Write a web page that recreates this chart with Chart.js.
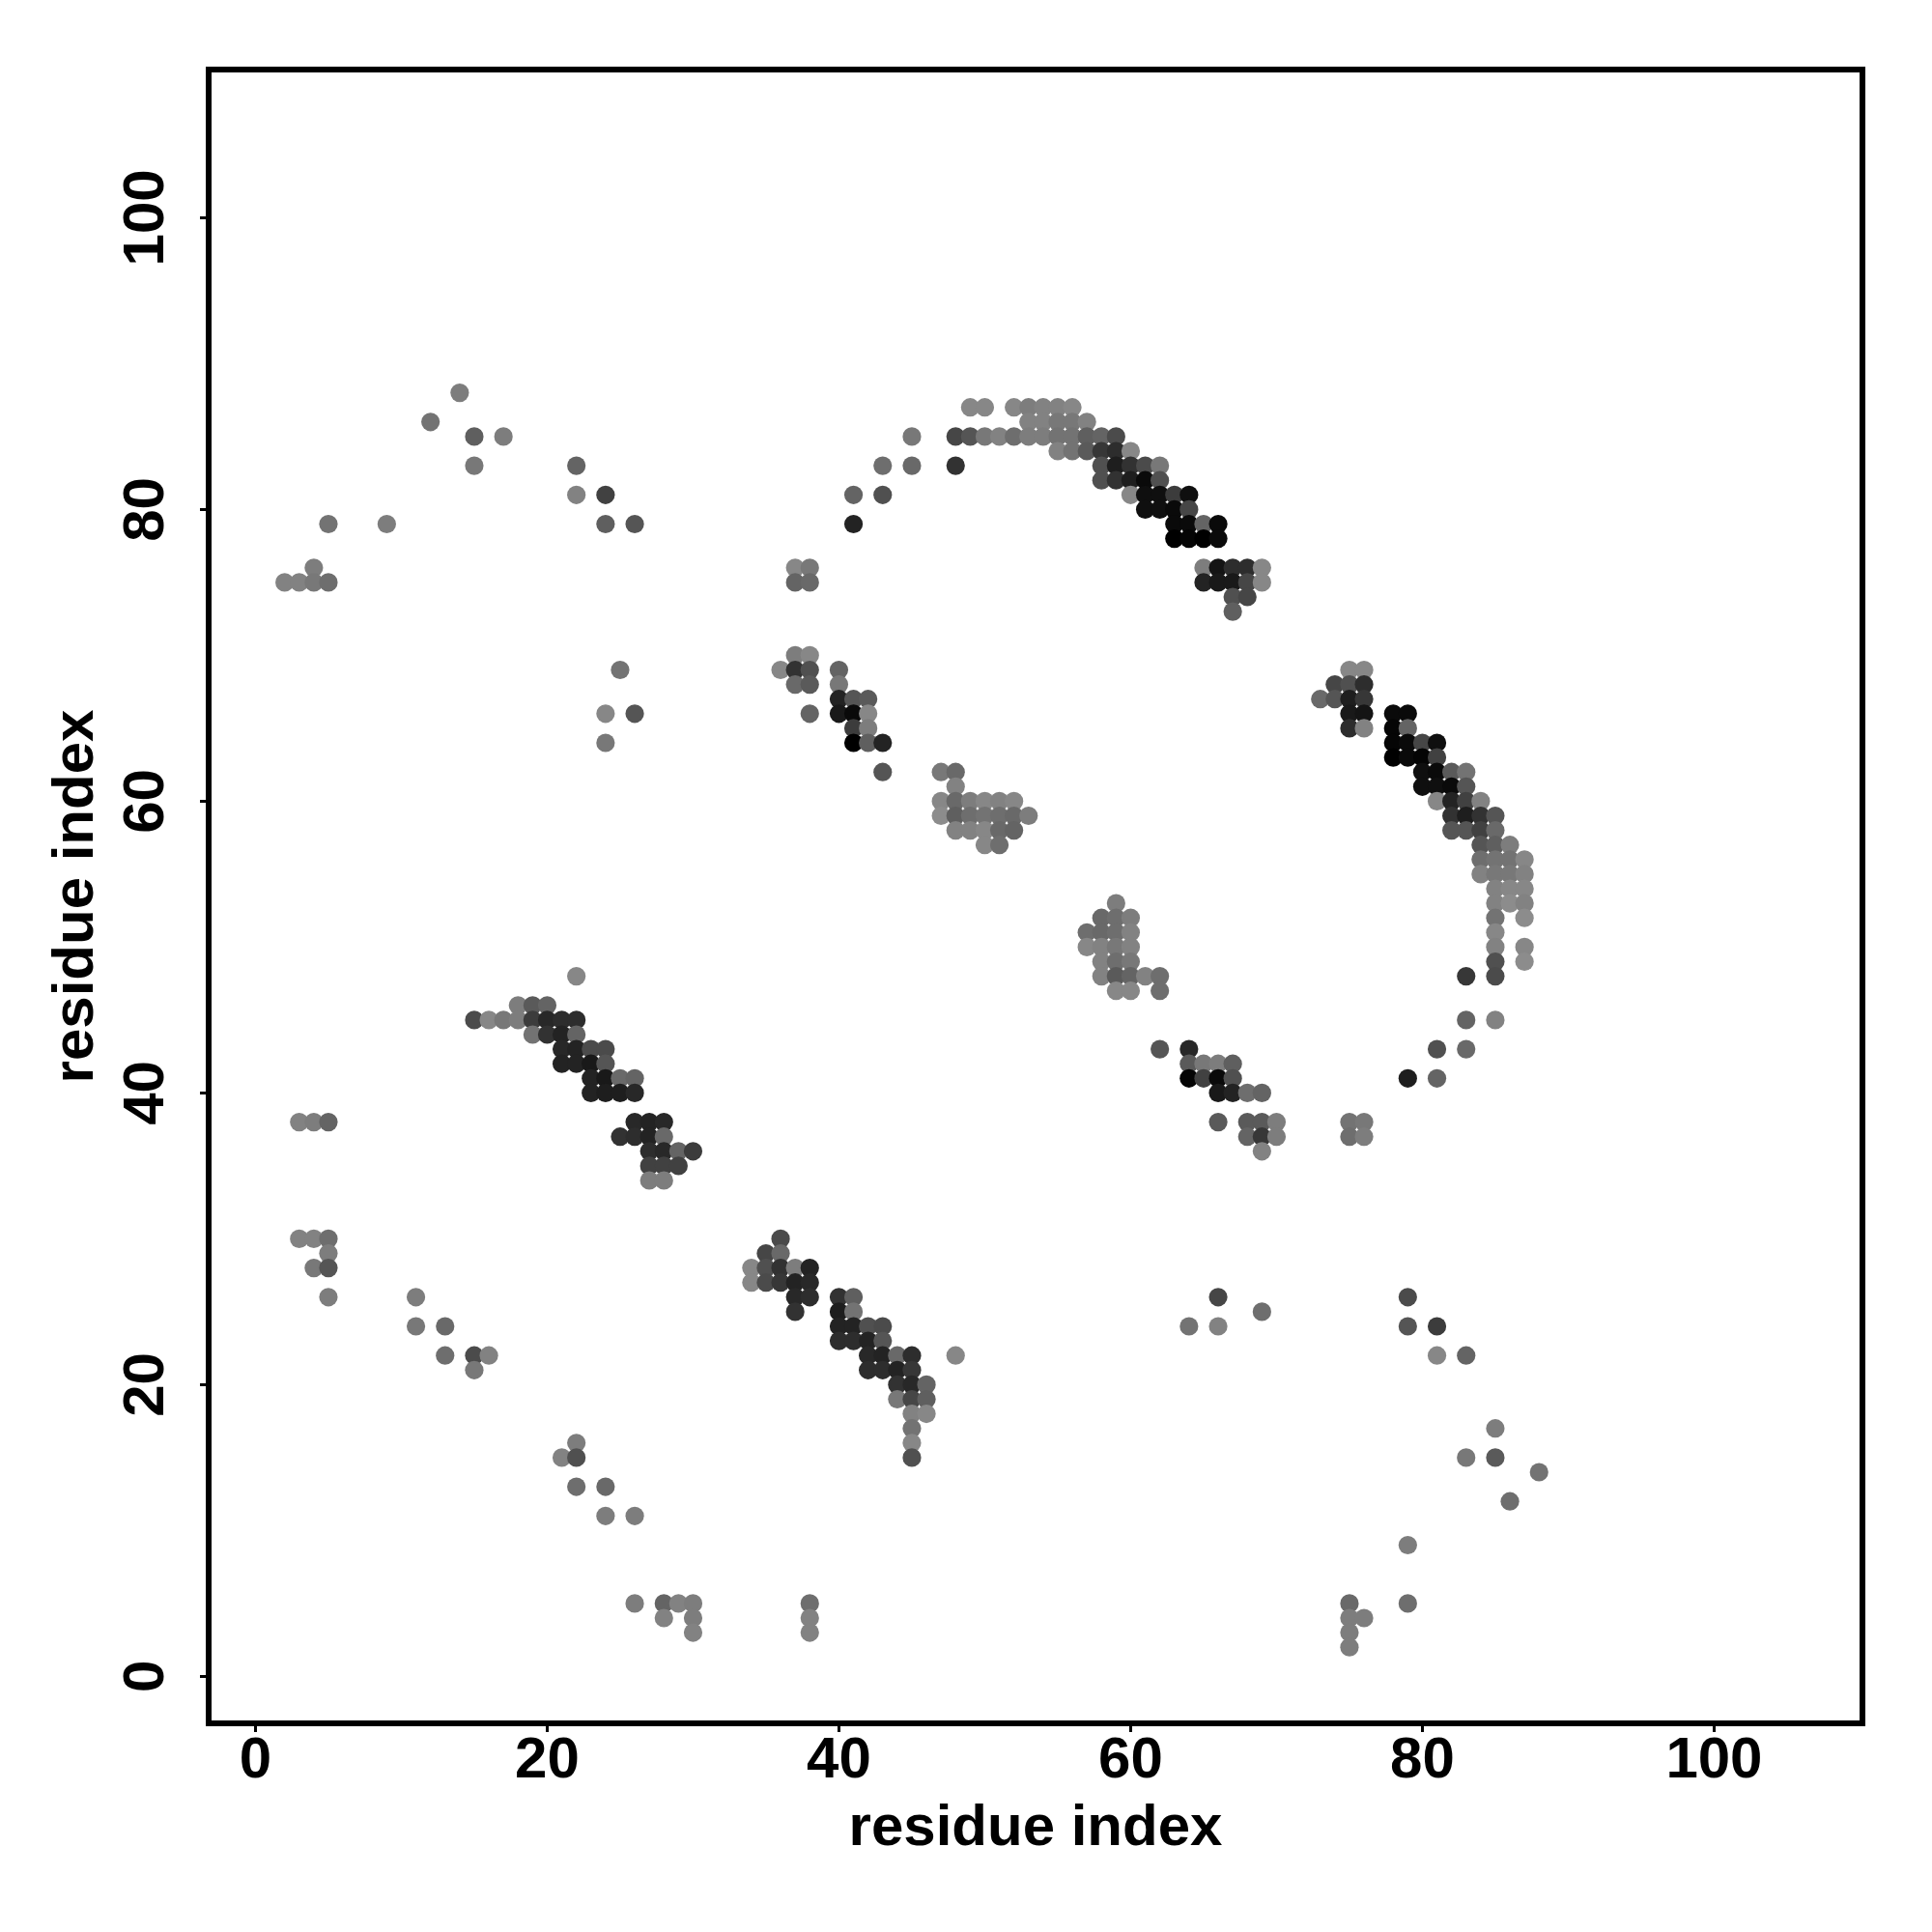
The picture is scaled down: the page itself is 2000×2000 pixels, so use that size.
<!DOCTYPE html>
<html>
<head>
<meta charset="utf-8">
<style>html,body{margin:0;padding:0;background:#fff}canvas{display:block}</style>
<script src="https://cdn.jsdelivr.net/npm/chart.js@4"></script>
</head>
<body>
<canvas id="c" width="2000" height="2000" style="width:2000px;height:2000px"></canvas>
<script>
const axisTitle = "residue index";
const xTickValues = [0, 20, 40, 60, 80, 100];
const yTickValues = [0, 20, 40, 60, 80, 100];
const xLimits = [-3.21, 110.17];
const yLimits = [-3.22, 110.16];

const rowY = [88,87,86,85,84,83,82,81,80,79,78,76,75,74,73,70,69,68,67,66,65,64,63,62,61,60,59,58,57,56,55,54,53,52,51,50,49,48,47,46,45,44,43,42,41,40,38,37,36,35,34,30,29,28,27,26,25,24,23,22,21,20,19,18,17,16,15,14,13,12,11,9,5,4,3,2];
const rowX = [
[14],
[49,50,52,53,54,55,56],
[12,53,54,55,56,57],
[15,17,45,48,49,50,51,52,53,54,55,56,57,58,59],
[55,56,57,58,59,60],
[15,22,43,45,48,58,59,60,61,62],
[58,59,60,61,62],
[22,24,41,43,60,61,62,63,64],
[61,62,63,64],
[5,9,24,26,41,63,64,65,66],
[63,64,65,66],
[4,37,38,65,66,67,68,69],
[2,3,4,5,37,38,65,66,67,68,69],
[67,68],
[67],
[37,38],
[25,36,37,38,40,75,76],
[37,38,40,74,75,76],
[40,41,42,73,74,75,76],
[24,26,38,40,41,42,75,76,78,79],
[41,42,75,76,78,79],
[24,41,42,43,78,79,80,81],
[78,79,80,81],
[43,47,48,80,81,82,83],
[48,80,81,82,83],
[47,48,49,50,51,52,81,82,83,84],
[47,48,49,50,51,52,53,82,83,84,85],
[48,49,50,51,52,82,83,84,85],
[50,51,84,85,86],
[84,85,86,87],
[84,85,86,87],
[85,86,87],
[59,85,86,87],
[58,59,60,85,87],
[57,58,59,60,85],
[57,58,59,60,85,87],
[58,59,60,85,87],
[22,58,59,60,61,62,83,85],
[59,60,62],
[18,19,20],
[15,16,17,18,19,20,21,22,83,85],
[19,20,21,22],
[21,22,23,24,62,64,81,83],
[21,22,23,24,64,65,66,67],
[23,24,25,26,64,65,66,67,79,81],
[23,24,25,26,66,67,68,69],
[3,4,5,26,27,28,66,68,69,70,75,76],
[25,26,27,28,68,69,70,75,76],
[27,28,29,30,69],
[27,28,29],
[27,28],
[3,4,5,36],
[5,35,36],
[4,5,34,35,36,37,38],
[34,35,36,37,38],
[5,11,37,38,40,41,66,79],
[37,40,41,69],
[11,13,40,41,42,43,64,66,79,81],
[40,41,42,43],
[13,15,16,42,43,44,45,48,81,83],
[15,42,43,44,45],
[44,45,46],
[44,45,46],
[45,46],
[45,85],
[22,45],
[21,22,45,83,85],
[88],
[22,24],
[86],
[24,26],
[79],
[26,28,29,30,38,75,79],
[28,30,38,75,76],
[30,38,75],
[75]
];
const rowGray = [
[125],
[135,135,135,125,130,130,135],
[115,130,130,120,120,130],
[95,125,120,70,85,120,130,110,125,125,115,115,95,100,75],
[130,115,90,55,45,135],
[120,100,110,105,50,80,30,50,75,120],
[80,50,30,10,80],
[130,65,100,80,135,15,15,60,15],
[15,15,10,70],
[115,125,95,85,35,10,10,100,10],
[0,5,0,10],
[125,135,120,125,20,45,45,135],
[130,130,120,110,100,105,35,25,25,70,135],
[80,70],
[95],
[125,135],
[115,135,50,80,100,135,135],
[105,90,120,70,80,45],
[35,85,90,105,85,30,55],
[135,85,100,25,10,135,25,20,10,10],
[60,125,45,130,5,100],
[120,0,95,35,5,10,70,15],
[0,10,5,65],
[85,120,105,15,10,90,115],
[130,15,15,10,85],
[135,105,125,135,130,135,135,35,65,130],
[140,95,110,115,110,105,125,50,30,50,85],
[130,130,135,105,100,85,85,65,105],
[135,110,85,95,125],
[110,115,115,135],
[130,120,120,130],
[130,135,135],
[125,130,140,130],
[105,110,125,115,140],
[110,105,110,130,135],
[135,130,120,130,130,135],
[130,110,120,80,140],
[135,130,90,100,130,110,55,75],
[135,135,110],
[125,90,100],
[75,135,120,125,60,40,45,45,100,130],
[115,50,35,100],
[40,35,75,75,85,40,80,105],
[35,35,25,85,90,120,125,95],
[35,25,105,100,5,65,10,80,30,100],
[35,30,30,40,25,35,110,100],
[130,125,100,40,35,40,90,90,90,125,115,120],
[50,45,35,105,100,55,125,110,125],
[45,40,100,60,130],
[65,65,65],
[125,125],
[130,130,110,75],
[125,70,105],
[120,85,135,80,50,125,35],
[135,75,55,35,40],
[125,125,40,45,50,95,70,75],
[50,30,115,110],
[120,105,35,35,80,75,115,130,85,60],
[45,45,35,85],
[110,75,130,40,35,105,45,135,135,100],
[120,45,45,35,55],
[50,40,100],
[120,70,95],
[130,135],
[115,125],
[125,135],
[130,80,80,120,90],
[115],
[110,105],
[110],
[125,125],
[125],
[125,100,130,125,110,105,110],
[130,125,130,125,125],
[130,130,125],
[125]
];

const points = [], colors = [];
rowY.forEach((y, r) => rowX[r].forEach((x, i) => {
  points.push({x, y});
  const g = rowGray[r][i];
  colors.push(`rgb(${g},${g},${g})`);
}));

const frame = {
  id: 'frame',
  afterDraw(chart) {
    const {ctx, chartArea: a} = chart;
    ctx.save();
    ctx.strokeStyle = '#000';
    ctx.lineWidth = 6;
    ctx.strokeRect(a.left, a.top, a.right - a.left, a.bottom - a.top);
    ctx.restore();
  }
};
const fontSpec = {family: '"Liberation Sans"', size: 60, weight: 'bold'};
function axis(limits, tickValues, side, tickPad, titlePad) {
  return {
    type: 'linear', min: limits[0], max: limits[1],
    afterBuildTicks(s) { s.ticks = tickValues.map(v => ({value: v})); },
    afterFit(s) { if (side === 'x') s.height = 216; else s.width = 216; },
    border: {display: false},
    grid: {drawOnChartArea: false, drawTicks: true, tickLength: 9, tickWidth: 3, tickColor: '#000'},
    ticks: Object.assign({
      color: '#000', font: fontSpec, padding: tickPad, autoSkip: false, includeBounds: false
    }, side === 'y' ? {minRotation: 90, maxRotation: 90, crossAlign: 'center'} : {maxRotation: 0, minRotation: 0}),
    title: {display: true, text: axisTitle, color: '#000', font: fontSpec, padding: {top: titlePad, bottom: titlePad}}
  };
}
new Chart(document.getElementById('c'), {
  type: 'scatter',
  data: {datasets: [{data: points, backgroundColor: colors, borderWidth: 0, pointRadius: 9.6, pointHoverRadius: 9.6}]},
  options: {
    responsive: false, animation: false, devicePixelRatio: 1,
    layout: {padding: {left: 0, top: 72, right: 72, bottom: 0}},
    plugins: {legend: {display: false}, tooltip: {enabled: false}, title: {display: false}},
    scales: {
      x: axis(xLimits, xTickValues, 'x', -6, 70.5),
      y: axis(yLimits, yTickValues, 'y', 4, 43)
    }
  },
  plugins: [frame]
});
</script>
</body>
</html>
